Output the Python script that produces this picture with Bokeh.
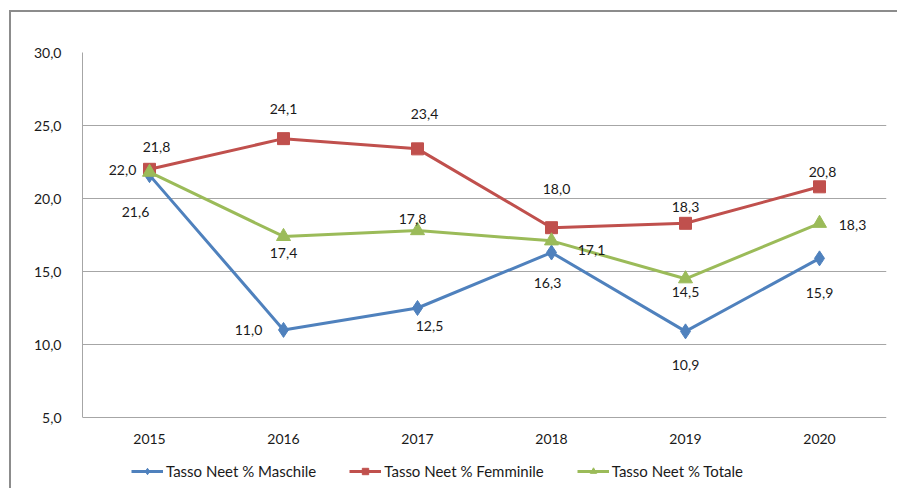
from bokeh.plotting import figure
from bokeh.models import (FactorRange, Range1d, FixedTicker, Legend, LegendItem,
                          ColumnDataSource)
from bokeh.core.properties import value
from bokeh.embed import file_html
from bokeh.resources import INLINE

years = ["2015", "2016", "2017", "2018", "2019", "2020"]
maschile = [21.6, 11.0, 12.5, 16.3, 10.9, 15.9]
femminile = [22.0, 24.1, 23.4, 18.0, 18.3, 20.8]
totale = [21.8, 17.4, 17.8, 17.1, 14.5, 18.3]
series_names = ["Tasso Neet % Maschile", "Tasso Neet % Femminile", "Tasso Neet % Totale"]
y_ticks = [5, 10, 15, 20, 25, 30]

# label placement (pixel offsets, style only)
off_m = [(-14, 37), (-35, 0), (12, 18), (-4, 30), (0, 34), (0, 35)]
off_f = [(-27, 1), (0, -30), (7, -35), (5, -39), (0, -16), (3, -15)]
off_t = [(7, -25), (0, 17), (-5, -12), (40, 9), (0, 13), (33, 2)]

FONT = "Lato"
FS = "14px"
colors = ["#4F81BD", "#C0504D", "#9BBB59"]
markers = ["diamond", "square", "triangle"]
msizes = [15, 12, 14]

# geometry: value axis spans 365 px; the frame extends below it to host the legend
AXIS_PX = 365
FRAME_H = 436
px_per_unit = AXIS_PX / (y_ticks[-1] - y_ticks[0])
y_start = y_ticks[0] - (FRAME_H - AXIS_PX) / px_per_unit

p = figure(frame_width=804, frame_height=FRAME_H, output_backend="svg", toolbar_location=None,
           x_range=FactorRange(factors=years), y_range=Range1d(y_start, y_ticks[-1]),
           x_axis_location=None,
           min_border_left=71, min_border_top=40, min_border_right=11, min_border_bottom=0)
p.styles = {"margin-left": "9px", "margin-top": "10px",
            "border-left": "2px solid #8C8C8C", "border-top": "2px solid #8C8C8C"}
p.outline_line_color = None
p.background_fill_color = "white"
p.border_fill_color = "white"

p.xgrid.grid_line_color = None
p.ygrid.grid_line_color = "#A6A6A6"
p.ygrid.grid_line_width = 1
p.ygrid.ticker = FixedTicker(ticks=y_ticks)
p.yaxis.ticker = FixedTicker(ticks=y_ticks)
p.yaxis.bounds = (y_ticks[0], y_ticks[-1])
p.yaxis.major_label_overrides = {t: f"{t:.1f}".replace(".", ",") for t in y_ticks}
p.yaxis.axis_line_color = "#A6A6A6"
p.yaxis.major_tick_line_color = None
p.yaxis.minor_tick_line_color = None
p.yaxis.major_label_text_font = FONT
p.yaxis.major_label_text_font_size = FS
p.yaxis.major_label_text_color = "#1a1a1a"
p.yaxis.major_label_standoff = 15

# category labels under the baseline
cat_src = ColumnDataSource(dict(x=years, y=[y_ticks[0]] * len(years), lab=years))
p.text("x", "y", text="lab", source=cat_src, y_offset=21,
       text_align="center", text_baseline="middle", text_font=value(FONT),
       text_font_size=FS, text_color="#1a1a1a")

items = []
for vals, offs, col, mk, ms, name in zip([maschile, femminile, totale],
                                          [off_m, off_f, off_t], colors, markers, msizes, series_names):
    src = ColumnDataSource(dict(x=years, y=vals,
                                lab=[f"{v:.1f}".replace(".", ",") for v in vals],
                                xo=[o[0] for o in offs], yo=[o[1] for o in offs]))
    ln = p.line("x", "y", source=src, line_color=col, line_width=3)
    sc = p.scatter("x", "y", source=src, marker=mk, size=ms, fill_color=col, line_color=col)
    p.text("x", "y", text="lab", source=src, x_offset="xo", y_offset="yo",
           text_align="center", text_baseline="middle", text_font=value(FONT),
           text_font_size=FS, text_color="#1a1a1a")
    items.append(LegendItem(label=name, renderers=[ln, sc]))

legend = Legend(items=items, orientation="horizontal", location=(49, 8),
                border_line_alpha=0, background_fill_alpha=0,
                label_text_font=FONT, label_text_font_size="15px", label_text_color="#1a1a1a",
                glyph_width=32, glyph_height=16, label_height=16, label_standoff=3,
                spacing=33, padding=0, margin=0)
p.add_layout(legend, "center")

open("out.html", "w").write(file_html(p, INLINE))
